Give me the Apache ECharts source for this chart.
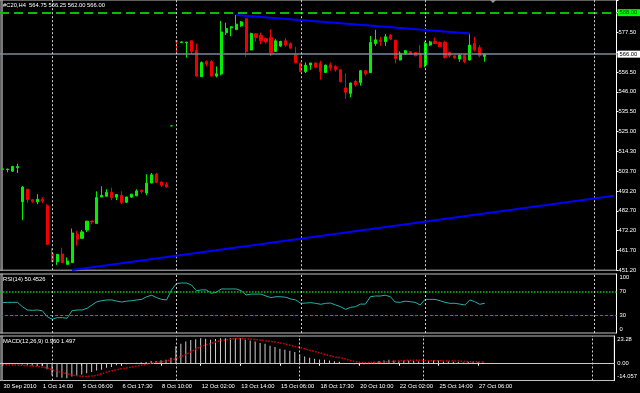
<!DOCTYPE html>
<html><head><meta charset="utf-8">
<script src="https://cdn.jsdelivr.net/npm/echarts@6/dist/echarts.min.js"></script>
<style>html,body{margin:0;padding:0;background:#000;overflow:hidden}#c{width:640px;height:393px}</style>
</head><body><div id="c"></div>
<script>
const symbolTitle = '#C20,H4  564.75 566.25 562.00 566.00';
const rsiTitle = 'RSI(14) 50.4526';
const macdTitle = 'MACD(12,26,9) 0.960 1.497';

const candleOpen = [505.0,504.8,504.0,505.8,487.7,494.4,488.9,487.7,489.1,485.6,
460.4,456.0,460.1,454.6,455.5,470.6,468.4,472.8,477.6,476.3,
490.3,490.7,492.8,490.2,491.2,487.5,490.2,490.9,493.9,492.4,
497.7,502.5,498.2,497.0,528.0,573.2,572.2,572.1,573.1,568.2,
554.05,562.0,562.1,554.4,555.5,577.4,579.9,579.0,581.0,584.7,
568.2,576.8,575.9,574.3,574.8,567.4,570.3,573.1,571.6,565.5,
561.1,556.7,560.2,561.3,561.3,556.3,560.4,559.5,557.75,548.1,
545.2,551.6,551.0,557.2,556.2,571.6,573.6,572.7,576.1,573.4,
562.9,566.0,567.25,566.9,566.4,560.4,570.8,572.7,572.2,572.2,
566.9,565.1,563.4,565.5,562.9,571.6,569.5,564.75];
const candleClose = [505.2,505.1,506.5,506.5,495.6,488.9,488.0,489.1,488.2,465.2,
456.0,459.9,455.5,456.4,471.2,468.0,471.8,477.5,477.1,490.0,
491.2,492.8,490.0,491.6,487.4,490.3,491.8,493.5,493.2,497.7,
502.1,498.1,496.5,495.6,528.0,572.7,572.5,572.4,567.4,554.4,
561.6,560.8,554.4,555.6,577.8,579.6,580.5,581.9,583.1,567.3,
576.9,574.8,573.1,572.5,566.9,573.1,572.7,570.8,569.2,561.4,
556.7,560.2,561.3,559.0,556.7,560.2,558.65,557.75,551.4,545.8,
550.7,549.8,557.2,555.5,572.2,573.6,572.7,575.2,574.0,563.7,
566.4,567.8,566.0,565.1,559.0,571.6,572.5,571.6,569.9,564.2,
565.1,563.9,565.5,562.0,570.8,568.15,565.1,566.0];
const candleLow = [504.8,503.4,503.8,503.0,478.0,487.2,487.2,486.5,487.2,464.9,
455.8,454.3,455.3,454.5,455.3,464.5,468.0,471.8,475.9,476.0,
490.3,490.5,488.6,488.6,486.5,487.3,490.0,490.7,492.1,491.2,
497.5,497.9,495.6,495.4,527.9,566.9,571.85,564.2,566.0,554.05,
554.0,559.5,554.2,553.7,554.7,576.2,575.5,578.8,580.5,564.6,
568.05,572.7,571.3,571.6,565.1,567.3,569.9,569.9,569.0,561.2,
556.5,556.0,557.75,558.8,552.5,556.1,557.2,556.7,551.0,542.3,
543.1,548.8,549.3,554.6,556.0,570.4,570.4,570.4,573.4,561.1,
562.7,565.8,565.7,565.0,558.8,559.0,570.4,571.5,569.8,563.7,
564.2,563.7,562.0,561.3,562.8,567.4,564.2,562.0];
const candleHigh = [505.4,505.3,506.8,508.0,496.0,494.6,489.3,491.8,490.2,486.5,
463.1,460.1,463.4,458.3,473.6,472.4,472.8,477.7,477.7,493.3,
496.0,494.4,495.3,491.8,493.3,490.5,492.0,494.4,494.1,502.3,
503.0,503.0,498.6,498.2,528.1,573.3,572.9,572.4,573.1,571.6,
562.1,562.7,562.9,559.5,583.6,582.7,580.8,586.8,583.6,584.8,
577.4,576.9,577.4,574.8,579.2,574.0,573.1,574.5,572.2,569.9,
561.6,561.6,561.4,561.6,562.5,560.4,561.6,560.2,558.0,555.8,
550.9,552.5,557.4,557.4,575.7,578.9,575.2,576.6,576.6,573.6,
567.4,568.15,567.6,566.9,570.8,572.7,573.1,574.8,572.7,573.1,
567.4,565.3,566.0,566.0,576.9,575.2,570.8,566.25];

const rsiValues = [51.4,52,52,52,44.6,39,38.4,39,37.8,27.6,
23.2,26,26,25,37.8,39,39,41.8,47.5,53,
54.8,56,56,54,52.5,54,54.8,56,57,61.5,
64,60,57,56,73,84,84.7,84.7,81.4,71.7,
73,73,67.3,69,74.6,74.6,74.6,74.6,71.7,64.4,
66,66,66,62.7,60,61.5,61.5,60.5,57.6,56,
50.3,50.8,51.4,50.3,48.6,50.3,50.8,47.5,44.6,40,
43.5,44.6,49,49,61.5,62.7,62.7,64,61.5,52.5,
52,54,53,52,47.5,57,57,57,54.8,52,
50.3,50.3,49,47.5,56,53,48.6,50.45];

const macdMain = [0.3,0.2,0.2,0.3,-0.6,-1.2,-1.6,-1.9,-2.2,-4.6,
-9.8,-11.3,-11.8,-12.1,-10.7,-9.8,-9.0,-7.9,-7.0,-5.6,
-5.0,-3.3,-2.8,-1.3,-0.8,-0.4,0.3,0.9,1.2,1.5,
2.3,2.4,2.9,3.4,5.0,14.6,16.8,18.6,19.9,20.6,
21.3,21.0,20.2,20.8,21.3,21.3,21.6,21.6,21.3,20.2,
19.6,18.7,17.5,16.7,15.2,14.1,12.6,11.7,10.9,9.9,
7.8,6.0,5.1,4.1,3.5,3.3,2.7,2.1,1.6,0.2,
-0.3,-0.5,-0.6,-0.4,0.8,1.6,2.2,2.8,3.3,2.8,
2.6,2.7,2.7,2.5,1.8,2.5,2.8,2.9,2.7,2.2,
1.9,1.6,1.4,1.0,1.7,1.7,1.2,0.96];
const macdSignal = [-0.8,-0.9,-1.0,-1.1,-1.3,-1.6,-1.9,-2.2,-2.9,-3.6,
-5.0,-6.4,-7.4,-8.4,-9.3,-10.1,-10.5,-10.7,-10.3,-9.8,
-8.4,-7.0,-6.0,-5.0,-4.2,-3.5,-2.8,-2.0,-1.2,-0.5,
0.4,1.2,1.6,2.3,3.2,4.3,6.0,7.8,9.9,12.2,
14.5,15.8,17.0,18.2,19.4,20.0,20.6,21.0,21.3,21.0,
20.7,20.3,19.9,19.3,18.8,18.2,17.5,16.6,15.6,14.6,
13.7,12.5,11.4,10.3,9.2,8.0,6.9,5.7,5.2,4.3,
2.9,2.0,1.2,1.0,0.95,1.0,1.2,1.5,1.8,2.0,
2.3,2.6,2.9,2.9,2.9,2.8,2.6,2.6,2.6,2.4,
2.3,2.3,2.3,2.0,1.8,1.6,1.6,1.497];

const totalSlots = 124;
const timeTickEvery = 8;
const timeTickLabels = ['30 Sep 2010','1 Oct 14:00','5 Oct 06:00','6 Oct 17:30','8 Oct 10:00','12 Oct 02:00','13 Oct 14:00','15 Oct 06:00','18 Oct 17:30','20 Oct 10:00','22 Oct 02:00','25 Oct 14:00','27 Oct 06:00'];
const priceTickValues = [451.5,462,472.5,483,493.5,504,514.5,525,535.5,546,556.5,577.5];
const priceTickLabels = ['451.20','461.70','472.20','482.70','493.20','503.70','514.30','525.00','535.50','546.00','556.50','577.50'];
const separatorBars = [10,35,60,85,119];
const levelPrice = 588.00;
const bidPrice = 566.00;
const trendDown = [[47,586.8],[94,576.9]];
const trendUp = [[14,451.6],[123,490.9]];
const rsiLevels = [70,30];
const rsiTickValues = [0,30,70,100];
const macdTickValues = [-14.057,0,23.28];
const macdTickLabels = ['-14.057','0.00','23.28'];

const FONT = 'Liberation Sans';
const FS = 5.8;
const cats = Array.from({length: totalSlots}, (_, i) => String(i));
const sepLines = separatorBars.map(k => ({xAxis: String(k)}));
const sepStyle = {color: '#d0d0d0', type: [2, 2], width: 1};

const gridBase = {left: -1.5, right: 23.5, show: true, borderColor: '#c0c0c0', borderWidth: 1, backgroundColor: '#000'};
const lbl = {color: '#fff', fontSize: FS, fontFamily: FONT};
const richTB = {
  t: {color: '#fff', fontSize: FS, fontFamily: FONT, padding: [7, 0, 0, 0]},
  b: {color: '#fff', fontSize: FS, fontFamily: FONT, padding: [0, 0, 8, 0]}
};

function leftLine(gi, min, max) {
  return {type: 'value', gridIndex: gi, position: 'left', offset: -2, min: min, max: max,
    axisLine: {show: true, lineStyle: {color: '#a0a0a0', width: 1.5}},
    axisTick: {show: false}, axisLabel: {show: false}, splitLine: {show: false}};
}

const chart = echarts.init(document.getElementById('c'), null, {renderer: 'canvas'});
chart.setOption({
  backgroundColor: '#000',
  animation: false,
  title: [
    {text: symbolTitle, left: 3, top: 2, padding: 0, textStyle: {color: '#fff', fontSize: FS, fontWeight: 'normal', fontFamily: FONT}},
    {text: rsiTitle, left: 3, top: 276.5, padding: 0, textStyle: {color: '#fff', fontSize: FS, fontWeight: 'normal', fontFamily: FONT}},
    {text: macdTitle, left: 3, top: 338.5, padding: 0, textStyle: {color: '#fff', fontSize: FS, fontWeight: 'normal', fontFamily: FONT}}
  ],
  grid: [
    Object.assign({top: -1, height: 271.2}, gridBase),
    Object.assign({top: 274, height: 59}, gridBase),
    Object.assign({top: 336, height: 44.5}, gridBase)
  ],
  xAxis: [
    {type: 'category', gridIndex: 0, data: cats, show: false},
    {type: 'category', gridIndex: 1, data: cats, show: false},
    {type: 'category', gridIndex: 2, data: cats,
      axisLine: {show: true, lineStyle: {color: '#c8c8c8', width: 1}},
      axisTick: {show: true, alignWithLabel: true, length: 2, lineStyle: {color: '#fff'},
        interval: (i) => i % timeTickEvery === 0 && i / timeTickEvery < timeTickLabels.length},
      axisLabel: Object.assign({interval: (i) => i % timeTickEvery === 0 && i / timeTickEvery < timeTickLabels.length,
        formatter: (v, i) => timeTickLabels[i / timeTickEvery] || '', align: 'left', margin: 3, padding: [0, 0, 0, 1]}, lbl),
      splitLine: {show: false}}
  ],
  yAxis: [
    {type: 'value', gridIndex: 0, position: 'right', min: 451.5, max: 594.7, interval: 10.5, scale: true,
      axisLine: {show: true, lineStyle: {color: '#fff'}},
      axisTick: {show: true, length: 2, lineStyle: {color: '#fff'}},
      axisLabel: Object.assign({margin: 2, formatter: (v) => {
        const i = priceTickValues.findIndex(t => Math.abs(t - v) < 0.05);
        return i >= 0 ? priceTickLabels[i] : '';
      }}, lbl),
      splitLine: {show: false}},
    leftLine(0, 451.5, 594.7),
    {type: 'value', gridIndex: 1, position: 'right', min: 0, max: 100, interval: 10,
      axisLine: {show: true, lineStyle: {color: '#fff'}},
      axisTick: {show: false},
      axisLabel: Object.assign({margin: 3, rich: richTB, formatter: (v) => {
        if (!rsiTickValues.includes(v)) return '';
        if (v === 100) return '{t|100}';
        if (v === 0) return '{b|0}';
        return String(v);
      }}, lbl),
      splitLine: {show: false}},
    leftLine(1, 0, 100),
    {type: 'value', gridIndex: 2, position: 'right', min: -14.057, max: 23.28, interval: 14.057,
      axisLine: {show: true, lineStyle: {color: '#fff'}},
      axisTick: {show: false},
      axisLabel: Object.assign({margin: 3, rich: richTB, showMaxLabel: true, showMinLabel: true, formatter: (v) => {
        const i = macdTickValues.findIndex(t => Math.abs(t - v) < 0.01);
        if (i < 0) return '';
        if (i === 0) return '{b|' + macdTickLabels[i] + '}';
        if (i === macdTickValues.length - 1) return '{t|' + macdTickLabels[i] + '}';
        return macdTickLabels[i];
      }}, lbl),
      splitLine: {show: false}},
    leftLine(2, -14.057, 23.28)
  ],
  series: [
    {type: 'line', xAxisIndex: 0, yAxisIndex: 0, data: [], z: 1, clip: false, silent: true,
      markLine: {symbol: ['none', 'none'], silent: true, animation: false,
        data: [
          {yAxis: bidPrice, lineStyle: {color: '#7a8a9a', width: 1.5, type: 'solid'},
            label: {show: true, position: 'end', distance: 1, formatter: bidPrice.toFixed(2), color: '#000', backgroundColor: '#fff', padding: [1, 3, 0, 2], fontSize: FS, fontFamily: FONT}},
          {yAxis: levelPrice, lineStyle: {color: '#00c000', width: 2, type: [9, 5]},
            label: {show: true, position: 'end', distance: 1, formatter: levelPrice.toFixed(2), color: '#004000', backgroundColor: '#00ff00', padding: [1, 3, 0, 2], fontSize: FS, fontFamily: FONT}}
        ]}},
    {type: 'candlestick', xAxisIndex: 0, yAxisIndex: 0, z: 3, barWidth: 2.6,
      data: candleOpen.map((o, i) => [o, candleClose[i], candleLow[i], candleHigh[i]]),
      itemStyle: {color: '#00f000', color0: '#f00000', borderColor: '#00f000', borderColor0: '#f00000', borderWidth: 1},
      markLine: {symbol: ['none', 'none'], silent: true, animation: false, label: {show: false}, lineStyle: sepStyle, data: sepLines}},
    {type: 'line', xAxisIndex: 0, yAxisIndex: 0, data: [], z: 4, silent: true, clip: false,
      markLine: {symbol: ['none', 'none'], silent: true, animation: false, label: {show: false},
        lineStyle: {color: '#0000ff', width: 2, type: 'solid'},
        data: [
          [{coord: [String(trendDown[0][0]), trendDown[0][1]]}, {coord: [String(trendDown[1][0]), trendDown[1][1]]}],
          [{coord: [String(trendUp[0][0]), trendUp[0][1]]}, {coord: [String(trendUp[1][0]), trendUp[1][1]]}]
        ]}},
    {type: 'line', xAxisIndex: 1, yAxisIndex: 2, data: rsiValues, symbol: 'none', z: 3,
      lineStyle: {color: '#20b2aa', width: 1},
      markLine: {symbol: ['none', 'none'], silent: true, animation: false, label: {show: false},
        data: [
          {yAxis: rsiLevels[0], lineStyle: {color: '#00c800', width: 1.5, type: [1.5, 1.5]}},
          {yAxis: rsiLevels[1], lineStyle: {color: '#00b400', width: 1, type: [3, 2]}}
        ].concat(sepLines.map(d => Object.assign({lineStyle: sepStyle}, d)))}},
    {type: 'bar', xAxisIndex: 2, yAxisIndex: 4, data: macdMain, barWidth: 1, z: 2,
      itemStyle: {color: '#d0d0d0'},
      markLine: {symbol: ['none', 'none'], silent: true, animation: false, label: {show: false}, lineStyle: sepStyle, data: sepLines}},
    {type: 'line', xAxisIndex: 2, yAxisIndex: 4, data: macdSignal, symbol: 'none', z: 3,
      lineStyle: {color: '#e00000', width: 1.5, type: [1.5, 1.5]}}
  ],
  graphic: [
    {type: 'polygon', shape: {points: [[490, 0], [496, 0], [493, 3]]}, style: {fill: '#9a9a9a'}}
  ]
});
</script>
</body></html>
